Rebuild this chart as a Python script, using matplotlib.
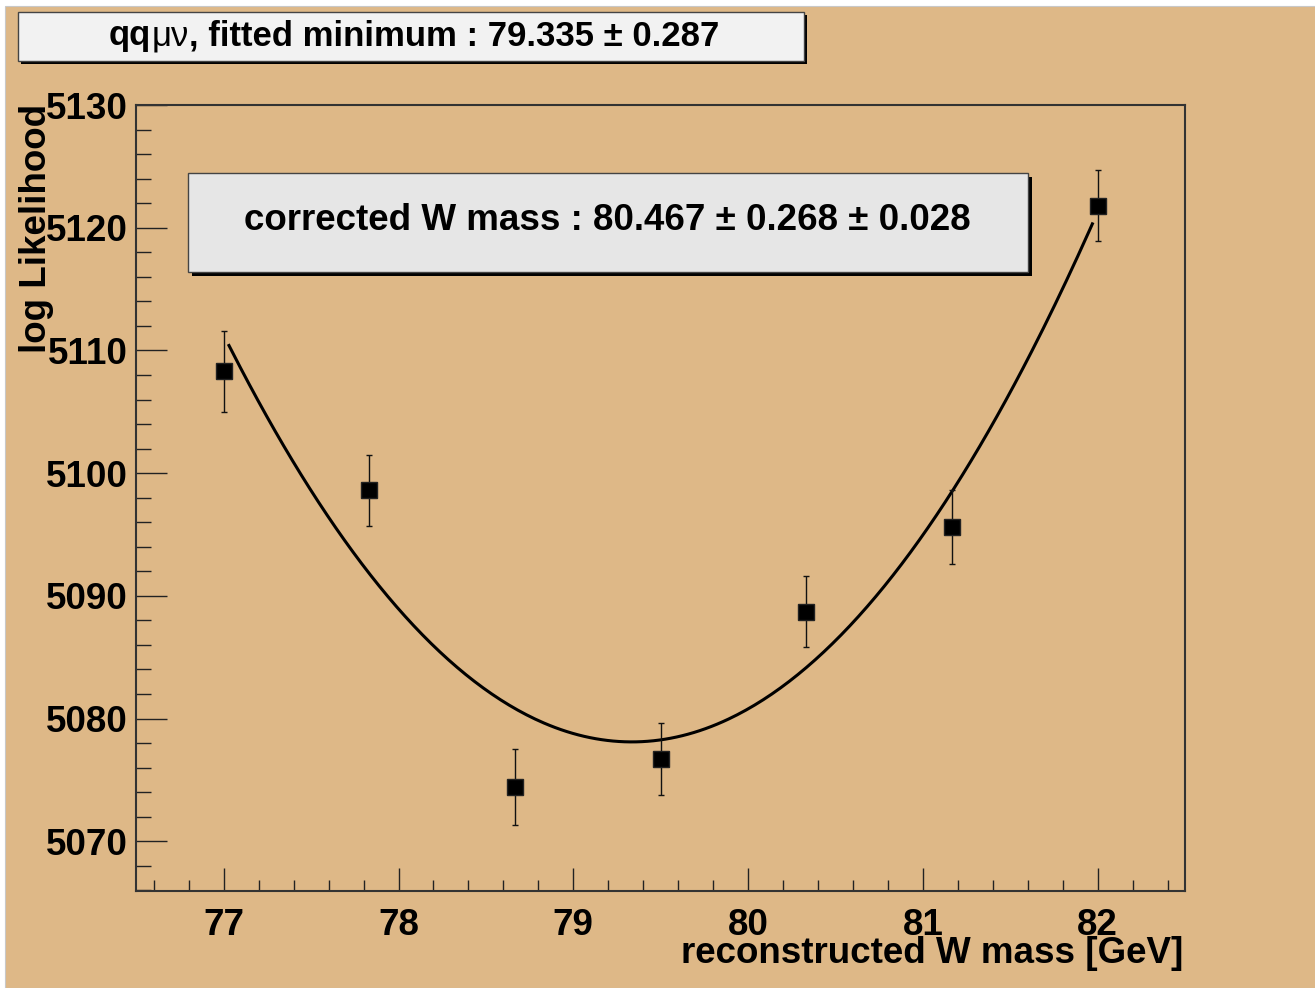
import matplotlib
matplotlib.use("Agg")
import numpy as np
import matplotlib.pyplot as plt
from matplotlib.patches import Rectangle
from matplotlib.ticker import MultipleLocator

# likelihood scan points
w_mass = [77.0, 77.833, 78.667, 79.5, 80.333, 81.167, 82.0]
log_like = [5108.3, 5098.6, 5074.4, 5076.7, 5088.7, 5095.6, 5121.8]
log_like_err = [3.3, 2.9, 3.1, 2.9, 2.9, 3.0, 2.9]

# parabola fit through the scan
fit_min = 79.335
fit_min_err = 0.287
fit_floor = 5078.1
fit_curv = 6.08
fit_range = (77.03, 81.97)

# corrected mass: value, stat, syst
corr_mass = (80.467, 0.268, 0.028)

x_ticks = [77, 78, 79, 80, 81, 82]
y_ticks = [5070, 5080, 5090, 5100, 5110, 5120, 5130]

W, H = 1315, 988
TAN = "#deb887"
FONT = "Liberation Sans"
LABEL_SIZE = 26.5

plt.rcParams["font.family"] = [FONT, "DejaVu Sans"]
plt.rcParams["font.weight"] = "bold"

fig = plt.figure(figsize=(W / 100, H / 100), dpi=100, facecolor="white")


def fx(px):
    return px / W


def fy(py):
    return 1 - py / H


def box(x0, y0, x1, y1, fill, shadow=4):
    # ROOT style pave: black drop shadow plus a thin framed box
    fig.patches.append(Rectangle((fx(x0 + shadow), fy(y1 + shadow)),
                                 fx(x1 - x0), (y1 - y0) / H,
                                 transform=fig.transFigure, facecolor="black",
                                 edgecolor="none", zorder=5))
    fig.patches.append(Rectangle((fx(x0), fy(y1)), fx(x1 - x0), (y1 - y0) / H,
                                 transform=fig.transFigure, facecolor=fill,
                                 edgecolor="#444444", linewidth=1.0, zorder=6))


# canvas
fig.patches.append(Rectangle((fx(5), 0), 1, fy(6), transform=fig.transFigure,
                             facecolor=TAN, edgecolor="#c8c8c8", linewidth=0.8,
                             zorder=-2))

ax = fig.add_axes([fx(136), fy(891), fx(1185 - 136), (891 - 105) / H])
ax.set_facecolor(TAN)
ax.set_xlim(76.498, 82.5)
ax.set_ylim(5065.95, 5130)

# fitted parabola
xs = np.linspace(fit_range[0], fit_range[1], 300)
ax.plot(xs, fit_floor + fit_curv * (xs - fit_min) ** 2, color="black",
        linewidth=2.2, zorder=3)

ax.errorbar(w_mass, log_like, yerr=log_like_err, fmt="s", color="black",
            markersize=11.5, markeredgecolor="#222222", elinewidth=1.0,
            ecolor="#111111", capsize=2.5, capthick=1.0, zorder=4)

ax.set_xticks(x_ticks)
ax.set_yticks(y_ticks)
ax.xaxis.set_minor_locator(MultipleLocator(0.2))
ax.yaxis.set_minor_locator(MultipleLocator(2))
ax.tick_params(axis="both", which="both", direction="in", top=False,
               right=False, color="#222222", width=1.0)
ax.tick_params(axis="x", which="major", length=16.5, pad=12,
               labelsize=LABEL_SIZE)
ax.tick_params(axis="x", which="minor", length=8)
ax.tick_params(axis="y", which="major", length=22, pad=6,
               labelsize=LABEL_SIZE)
ax.tick_params(axis="y", which="minor", length=11)
for s in ax.spines.values():
    s.set_color("#333333")
    s.set_linewidth(1.5)

fig.text(fx(1183), fy(953), "reconstructed W mass [GeV]", fontsize=LABEL_SIZE,
         ha="right", va="center")
fig.text(fx(37), fy(104), "log Likelihood", fontsize=LABEL_SIZE, rotation=90,
         ha="center", va="top")

# title pave
box(18, 12, 804, 61, "#f2f2f2", shadow=3)
renderer = fig.canvas.get_renderer()
parts = [("qq", "bold"), ("\u03bc\u03bd", "normal"),
         (", fitted minimum : %.3f \u00b1 %.3f" % (fit_min, fit_min_err), "bold")]
pieces = [fig.text(0, fy(36), s, fontsize=25, fontweight=w, va="center",
                   ha="left", zorder=7) for s, w in parts]
widths = [t.get_window_extent(renderer).width for t in pieces]
xpos = 414 - sum(widths) / 2
for t, wd in zip(pieces, widths):
    t.set_x(fx(xpos))
    xpos += wd

# corrected mass pave
box(188, 173, 1028, 272, "#e6e6e6", shadow=4)
fig.text(fx(607), fy(220),
         "corrected W mass : %.3f \u00b1 %.3f \u00b1 %.3f" % corr_mass,
         fontsize=LABEL_SIZE, ha="center", va="center", zorder=7)

fig.savefig("out.png", dpi=100, facecolor=fig.get_facecolor())
